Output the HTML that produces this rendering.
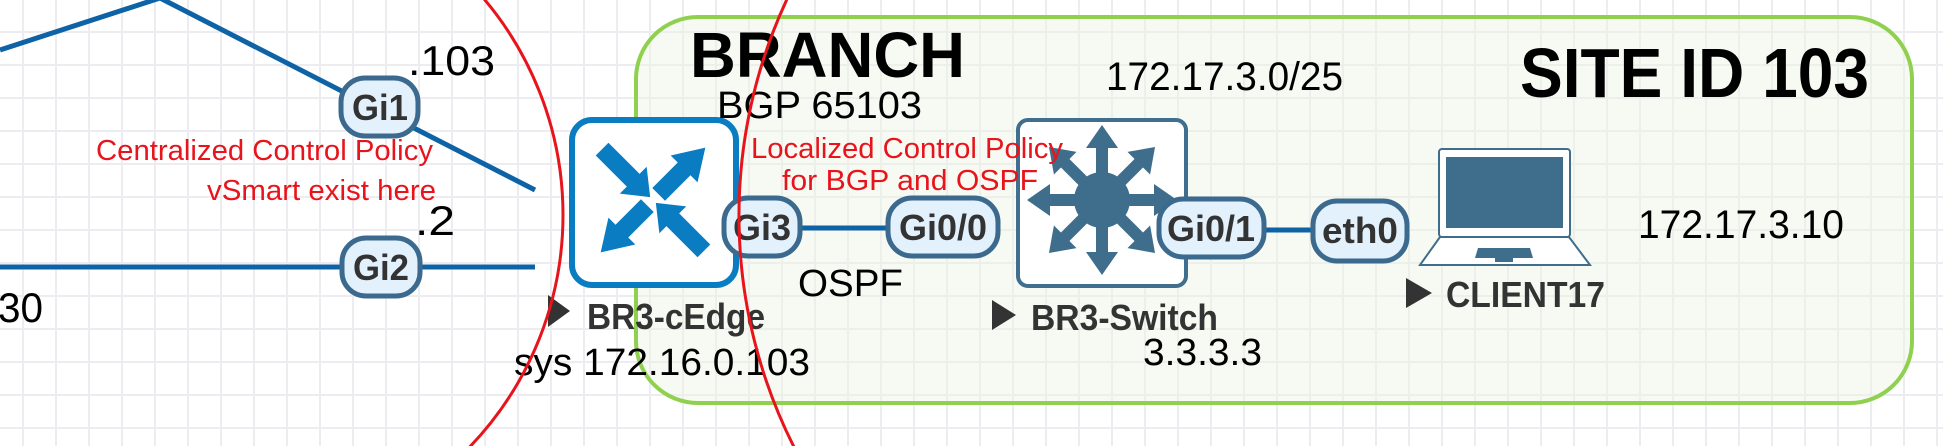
<!DOCTYPE html>
<html><head><meta charset="utf-8"><style>
html,body{margin:0;padding:0;background:#fff;overflow:hidden;width:1943px;height:446px;}
svg{display:block;}
text{font-family:"Liberation Sans",sans-serif;}
</style></head><body>
<svg width="1943" height="446" viewBox="0 0 1943 446" xmlns="http://www.w3.org/2000/svg">
<defs>
<pattern id="g" x="22" y="-2" width="33" height="33" patternUnits="userSpaceOnUse">
<rect x="0" y="0" width="2" height="33" fill="#ededf1"/>
<rect x="0" y="0" width="33" height="2" fill="#ededf1"/>
</pattern>
</defs>
<rect width="1943" height="446" fill="#fff"/>
<rect width="1943" height="446" fill="url(#g)"/>
<rect x="636" y="17" width="1276" height="386" rx="62" fill="#eef5e2" fill-opacity="0.45" stroke="#8fd14f" stroke-width="4"/>
<polyline points="0,50 160,-2 535,190" fill="none" stroke="#0d63a5" stroke-width="5"/>
<line x1="0" y1="267" x2="535" y2="267" stroke="#0d63a5" stroke-width="5"/>
<line x1="760" y1="228" x2="900" y2="228" stroke="#0d63a5" stroke-width="5"/>
<line x1="1250" y1="230" x2="1320" y2="230" stroke="#0d63a5" stroke-width="5"/>
<rect x="572" y="120" width="164" height="165" rx="20" fill="#fff" stroke="#0a7dc2" stroke-width="6"/>
<g fill="#0a7dc2">
<g transform="translate(653,200) rotate(-135)"><polygon points="-72,-9 -28,-9 -28,-19 -4,0 -28,19 -28,9 -72,9"/></g>
<g transform="translate(653,200) rotate(-45)"><polygon points="8,-9 44,-9 44,-19 74,0 44,19 44,9 8,9"/></g>
<g transform="translate(653,200) rotate(135)"><polygon points="8,-9 44,-9 44,-19 74,0 44,19 44,9 8,9"/></g>
<g transform="translate(653,200) rotate(45)"><polygon points="-72,-9 -28,-9 -28,-19 -4,0 -28,19 -28,9 -72,9"/></g>
</g>
<rect x="1018" y="120" width="168" height="166" rx="10" fill="#fff" stroke="#3f6e8e" stroke-width="4"/>
<g fill="#3e6e8c">
<circle cx="1102" cy="200" r="28"/>
<g transform="translate(1102,200)">
<polygon points="-6,0 -6,-52 -16,-52 0,-75 16,-52 6,-52 6,0"/>
<polygon transform="rotate(45)" points="-6,0 -6,-52 -16,-52 0,-75 16,-52 6,-52 6,0"/>
<polygon transform="rotate(90)" points="-6,0 -6,-52 -16,-52 0,-75 16,-52 6,-52 6,0"/>
<polygon transform="rotate(135)" points="-6,0 -6,-52 -16,-52 0,-75 16,-52 6,-52 6,0"/>
<polygon transform="rotate(180)" points="-6,0 -6,-52 -16,-52 0,-75 16,-52 6,-52 6,0"/>
<polygon transform="rotate(225)" points="-6,0 -6,-52 -16,-52 0,-75 16,-52 6,-52 6,0"/>
<polygon transform="rotate(270)" points="-6,0 -6,-52 -16,-52 0,-75 16,-52 6,-52 6,0"/>
<polygon transform="rotate(315)" points="-6,0 -6,-52 -16,-52 0,-75 16,-52 6,-52 6,0"/>
</g>
</g>
<rect x="1439" y="149" width="131" height="88" rx="3" fill="#fff" stroke="#3e6e8c" stroke-width="2"/>
<rect x="1446" y="157" width="117" height="71" fill="#3e6e8c"/>
<polygon points="1440,237 1569,237 1590,265 1420,265" fill="#fff" stroke="#3e6e8c" stroke-width="2"/>
<polygon points="1478,248 1530,248 1533,258 1475,258" fill="#3e6e8c"/>
<rect x="1495" y="256" width="18" height="6" fill="#3e6e8c"/>
<g fill="#e3f1fc" stroke="#3b6a8e" stroke-width="5">
<rect x="341" y="78" width="77" height="58" rx="24"/>
<rect x="342" y="238" width="78" height="58" rx="24"/>
<rect x="724" y="198" width="76" height="58" rx="24"/>
<rect x="888" y="198" width="110" height="58" rx="24"/>
<rect x="1159" y="199" width="105" height="58" rx="24"/>
<rect x="1313" y="201" width="94" height="60" rx="24"/>
</g>
<g fill="#333" font-size="36" font-weight="bold" text-anchor="middle">
<text x="380" y="120" textLength="56" lengthAdjust="spacingAndGlyphs">Gi1</text>
<text x="381" y="280" textLength="56" lengthAdjust="spacingAndGlyphs">Gi2</text>
<text x="762" y="240" textLength="58" lengthAdjust="spacingAndGlyphs">Gi3</text>
<text x="943" y="240" textLength="88" lengthAdjust="spacingAndGlyphs">Gi0/0</text>
<text x="1211" y="241" textLength="88" lengthAdjust="spacingAndGlyphs">Gi0/1</text>
<text x="1360" y="243" textLength="76" lengthAdjust="spacingAndGlyphs">eth0</text>
</g>
<text x="690" y="77" font-size="64" font-weight="bold" fill="#000" textLength="275" lengthAdjust="spacingAndGlyphs">BRANCH</text>
<text x="717" y="118" font-size="38" fill="#000" textLength="205" lengthAdjust="spacingAndGlyphs">BGP 65103</text>
<text x="1520" y="97" font-size="70" font-weight="bold" fill="#000" textLength="349" lengthAdjust="spacingAndGlyphs">SITE ID 103</text>
<text x="1106" y="90" font-size="40" fill="#000" textLength="237" lengthAdjust="spacingAndGlyphs">172.17.3.0/25</text>
<text x="1638" y="238" font-size="40" fill="#000" textLength="206" lengthAdjust="spacingAndGlyphs">172.17.3.10</text>
<text x="408" y="75" font-size="42" fill="#000" textLength="87" lengthAdjust="spacingAndGlyphs">.103</text>
<text x="415" y="235" font-size="42" fill="#000" textLength="40" lengthAdjust="spacingAndGlyphs">.2</text>
<text x="-2" y="322" font-size="42" fill="#000" textLength="45" lengthAdjust="spacingAndGlyphs">30</text>
<text x="798" y="296" font-size="38" fill="#000" textLength="105" lengthAdjust="spacingAndGlyphs">OSPF</text>
<text x="514" y="375" font-size="38" fill="#000" textLength="296" lengthAdjust="spacingAndGlyphs">sys 172.16.0.103</text>
<text x="1143" y="365" font-size="38" fill="#000" textLength="119" lengthAdjust="spacingAndGlyphs">3.3.3.3</text>
<g fill="#e8141c" font-size="29">
<text x="96" y="160" textLength="337" lengthAdjust="spacingAndGlyphs">Centralized Control Policy</text>
<text x="207" y="200" textLength="229" lengthAdjust="spacingAndGlyphs">vSmart exist here</text>
<text x="751" y="158" textLength="312" lengthAdjust="spacingAndGlyphs">Localized Control Policy</text>
<text x="782" y="190" textLength="256" lengthAdjust="spacingAndGlyphs">for BGP and OSPF</text>
</g>
<g fill="#333">
<polygon points="548,295 570,311 548,327"/>
<polygon points="992,300 1016,315 992,330"/>
<polygon points="1406,278 1432,293 1406,308"/>
</g>
<g fill="#333" font-size="36" font-weight="bold">
<text x="587" y="329" textLength="178" lengthAdjust="spacingAndGlyphs">BR3-cEdge</text>
<text x="1031" y="330" textLength="187" lengthAdjust="spacingAndGlyphs">BR3-Switch</text>
<text x="1446" y="307" textLength="159" lengthAdjust="spacingAndGlyphs">CLIENT17</text>
</g>
<circle cx="228" cy="215" r="335" fill="none" stroke="#e8141c" stroke-width="3"/>
<path d="M788,-3 A513,513 0 0,0 795,449" fill="none" stroke="#e8141c" stroke-width="3"/>
</svg>
</body></html>
